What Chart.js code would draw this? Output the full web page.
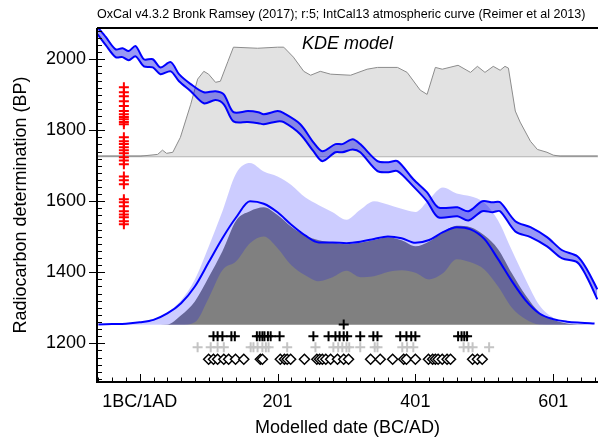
<!DOCTYPE html>
<html>
<head>
<meta charset="utf-8">
<script src="https://cdn.jsdelivr.net/npm/chart.js@4"></script>
<style>
  html, body { margin: 0; padding: 0; background: #fff; }
  #wrap { width: 598px; height: 441px; }
</style>
</head>
<body>
<div id="wrap"><canvas id="oxcalChart"></canvas></div>
<script>
// Calibration curve (IntCal13), upper and lower 1-sigma edges
const calYears = [-61,-49,-35,-25,-16,-6,6,19,30,45,57,74,93,110,122,136,157,172,180,200,209,233,252,265,284,294,309,320,345,361,374,397,417,433,461,477,497,512,523,545,567,591,613,635,649,664];
const calHigh = [2090,2062,2028,2031,2023,2037,2000,2000,1977,1992,1958,1930,1907,1910,1901,1851,1854,1851,1845,1854,1848,1817,1766,1741,1761,1761,1775,1761,1713,1710,1713,1662,1625,1583,1583,1572,1600,1597,1597,1544,1527,1499,1462,1445,1408,1352];
const calLow = [2070,2039,2006,2006,1997,2008,1980,1977,1958,1966,1938,1910,1876,1885,1873,1825,1823,1820,1817,1825,1823,1789,1741,1713,1738,1738,1746,1738,1685,1682,1685,1642,1600,1555,1558,1546,1572,1569,1572,1515,1499,1473,1439,1428,1386,1324];

// KDE distribution drawn along the top (baseline at 1727 BP)
const kdeTopBase = 1727;
const kdeTopYears = [-61,1,26,33,39,48,59,74,84,93,100,110,117,128,136,171,200,209,223,238,248,262,277,306,330,345,374,388,407,417,429,439,462,480,490,501,513,523,530,535,545,552,567,577,591,600,610,664];
const kdeTopBP = [1727,1727,1732,1744,1735,1738,1780,1873,1944,1966,1958,1935,1938,1994,2034,2031,2034,2034,2006,1966,1955,1966,1958,1955,1972,1977,1977,1963,1913,1901,1977,1972,1983,1963,1980,1963,1980,1969,1980,1975,1854,1823,1769,1746,1738,1730,1727,1727];

// KDE model plot (baseline at 1252 BP)
const kdeBase = 1252;
const kdeYears = [-60,-40,-20,0,20,40,60,80,100,120,140,160,180,200,220,240,260,280,300,320,340,360,380,400,420,440,460,480,500,520,540,560,580,600,620,640,660];
const kdeMean = [1253,1254,1255,1259,1266,1284,1313,1360,1428,1496,1555,1600,1593,1569,1534,1504,1484,1484,1482,1486,1494,1501,1496,1483,1491,1513,1527,1521,1494,1437,1375,1321,1284,1268,1261,1258,1256];
const kdeModel = [1252,1252,1252,1252,1252,1253,1279,1318,1386,1459,1546,1572,1583,1561,1528,1504,1490,1484,1479,1483,1491,1499,1490,1473,1487,1513,1531,1527,1504,1465,1397,1335,1287,1266,1256,1253,1252];
const kdeLow = [1252,1252,1252,1252,1252,1252,1252,1259,1327,1406,1431,1482,1501,1468,1420,1392,1375,1386,1404,1386,1389,1401,1406,1399,1380,1397,1437,1428,1408,1360,1300,1268,1253,1252,1252,1252,1252];
const kdeHigh = [1253,1255,1257,1259,1269,1287,1321,1380,1472,1572,1679,1708,1684,1670,1646,1611,1589,1569,1548,1576,1600,1591,1579,1570,1606,1639,1622,1614,1596,1546,1462,1380,1307,1272,1259,1255,1253];

// Radiocarbon determinations (BP) shown on the left
const c14Column = -23;
const c14Dates = [1921,1907,1896,1882,1868,1854,1845,1837,1831,1823,1817,1780,1769,1761,1752,1744,1735,1724,1715,1704,1670,1659,1648,1606,1597,1586,1572,1563,1555,1544,1535];

// Marker rows under the distributions (calendar years)
const rowLevels = [1253, 1220, 1189, 1155];
const topMark = [296];
const blackCross = [107,113,120,133,138,170,174,178,181,186,190,203,252,274,284,290,296,301,320,339,345,378,387,394,400,462,467,471,475];
const greyCross = [84,103,113,122,161,165,171,178,183,187,214,255,281,288,294,300,304,320,341,345,381,388,397,470,477,483,507];
const diamonds = [100,107,113,122,129,139,151,175,178,204,210,214,219,239,257,261,265,270,277,287,296,303,335,349,367,383,387,400,419,425,429,433,439,446,451,483,490,497];

// Axis ticks
const xTickValues = [0, 200, 400, 600];
const xTickLabels = ['1BC/1AD', '201', '401', '601'];
const yTickValues = [1200, 1400, 1600, 1800, 2000];

const FONT = '"Liberation Sans", Arial, Helvetica, sans-serif';

function pts(xs, ys) {
    return xs.map((x, i) => ({ x: x, y: ys[i] }));
}
function row(xs, level) {
    return xs.map(x => ({ x: x, y: level }));
}

// Frame, tick marks and header text
const oxcalFrame = {
    id: 'oxcalFrame',
    afterDraw(chart) {
        const { ctx, chartArea: a, scales: { x, y } } = chart;
        ctx.save();
        ctx.strokeStyle = '#000';
        ctx.lineWidth = 1;
        ctx.beginPath();
        for (let v = 1100; v <= 2080; v += 20) {
            const py = Math.round(y.getPixelForValue(v)) + 0.5;
            if (v % 200 === 0) {
                ctx.moveTo(a.left - 8, py);
                ctx.lineTo(a.left + 8, py);
            } else {
                ctx.moveTo(a.left, py);
                ctx.lineTo(a.left + 5, py);
            }
        }
        for (let v = -60; v <= 660; v += 20) {
            const px = Math.round(x.getPixelForValue(v)) + 0.5;
            ctx.moveTo(px, a.bottom);
            ctx.lineTo(px, a.bottom - (v % 200 === 0 ? 8 : 4.5));
        }
        ctx.stroke();

        ctx.lineWidth = 2;
        ctx.beginPath();
        ctx.moveTo(a.left, a.top);
        ctx.lineTo(a.right, a.top);
        ctx.moveTo(a.left, a.top);
        ctx.lineTo(a.left, a.bottom);
        ctx.lineTo(a.right, a.bottom);
        ctx.stroke();

        ctx.fillStyle = '#000';
        ctx.textBaseline = 'alphabetic';
        ctx.textAlign = 'left';
        ctx.font = '12.5px ' + FONT;
        ctx.fillText('OxCal v4.3.2 Bronk Ramsey (2017); r:5; IntCal13 atmospheric curve (Reimer et al 2013)', a.left, 18);
        ctx.font = 'italic 18px ' + FONT;
        ctx.fillText('KDE model', 302, 49);
        ctx.restore();
    }
};

const lineBase = {
    pointRadius: 0,
    borderWidth: 0,
    fill: false
};

new Chart(document.getElementById('oxcalChart'), {
    type: 'line',
    data: {
        datasets: [
            {
                // top KDE baseline
                ...lineBase,
                data: [{ x: -62, y: kdeTopBase }, { x: 665, y: kdeTopBase }],
                borderColor: '#b4b4b4',
                borderWidth: 2,
                order: 12
            },
            {
                ...lineBase,
                data: pts(kdeTopYears, kdeTopBP),
                borderColor: '#8c8c8c',
                borderWidth: 1,
                backgroundColor: '#e2e2e2',
                fill: { value: kdeTopBase },
                tension: 0,
                order: 11
            },
            {
                ...lineBase,
                data: pts(kdeYears, kdeModel),
                backgroundColor: '#808080',
                fill: { value: kdeBase },
                cubicInterpolationMode: 'monotone',
                order: 10
            },
            {
                ...lineBase,
                data: pts(kdeYears, kdeHigh),
                backgroundColor: 'rgba(0,0,255,0.2)',
                fill: '+1',
                cubicInterpolationMode: 'monotone',
                order: 9
            },
            {
                ...lineBase,
                data: pts(kdeYears, kdeLow),
                cubicInterpolationMode: 'monotone',
                order: 9
            },
            {
                ...lineBase,
                data: pts(kdeYears, kdeMean),
                borderColor: '#0000ff',
                borderWidth: 2,
                cubicInterpolationMode: 'monotone',
                order: 8
            },
            {
                ...lineBase,
                data: pts(calYears, calHigh),
                borderColor: '#0000ff',
                borderWidth: 2,
                backgroundColor: 'rgba(0,0,230,0.4)',
                fill: '+1',
                tension: 0.3,
                order: 6
            },
            {
                ...lineBase,
                data: pts(calYears, calLow),
                borderColor: '#0000ff',
                borderWidth: 2,
                tension: 0.3,
                order: 6
            },
            {
                type: 'scatter',
                data: c14Dates.map(bp => ({ x: c14Column, y: bp })),
                pointStyle: 'cross',
                pointRadius: 5,
                borderColor: '#ff0000',
                borderWidth: 2,
                order: 3
            },
            {
                type: 'scatter',
                data: row(greyCross, rowLevels[2]),
                pointStyle: 'cross',
                pointRadius: 5,
                borderColor: '#c4c4c4',
                borderWidth: 2,
                order: 2
            },
            {
                type: 'scatter',
                data: row(topMark, rowLevels[0]).concat(row(blackCross, rowLevels[1])),
                pointStyle: 'cross',
                pointRadius: 5,
                borderColor: '#000',
                borderWidth: 2,
                order: 1
            },
            {
                type: 'scatter',
                data: row(diamonds, rowLevels[3]),
                pointStyle: 'rectRot',
                pointRadius: 5,
                borderColor: '#000',
                backgroundColor: '#fff',
                borderWidth: 1.5,
                order: 1
            }
        ]
    },
    options: {
        responsive: true,
        maintainAspectRatio: false,
        animation: false,
        layout: {
            autoPadding: false,
            padding: { top: 28, right: 0, left: 0, bottom: 0 }
        },
        plugins: {
            legend: { display: false },
            tooltip: { enabled: false }
        },
        scales: {
            x: {
                type: 'linear',
                min: -62,
                max: 665,
                afterFit: s => { s.height = 59; },
                afterBuildTicks: s => { s.ticks = xTickValues.map(v => ({ value: v })); },
                grid: { display: false, drawTicks: false },
                border: { display: false },
                ticks: {
                    callback: v => xTickLabels[xTickValues.indexOf(v)],
                    color: '#000',
                    font: { family: FONT, size: 18 },
                    padding: 9,
                    maxRotation: 0,
                    autoSkip: false
                },
                title: {
                    display: true,
                    text: 'Modelled date (BC/AD)',
                    color: '#000',
                    font: { family: FONT, size: 18, lineHeight: 1.2 },
                    padding: { top: 0, bottom: 2 }
                }
            },
            y: {
                type: 'linear',
                min: 1091,
                max: 2088,
                afterFit: s => { s.width = 97; },
                afterBuildTicks: s => { s.ticks = yTickValues.map(v => ({ value: v })); },
                grid: { display: false, drawTicks: false },
                border: { display: false },
                ticks: {
                    callback: v => String(v),
                    color: '#000',
                    font: { family: FONT, size: 18 },
                    padding: 11,
                    autoSkip: false
                },
                title: {
                    display: true,
                    text: 'Radiocarbon determination (BP)',
                    color: '#000',
                    font: { family: FONT, size: 18, lineHeight: 1.2 },
                    padding: { top: 10, bottom: 0 }
                }
            }
        }
    },
    plugins: [oxcalFrame]
});
</script>
</body>
</html>
